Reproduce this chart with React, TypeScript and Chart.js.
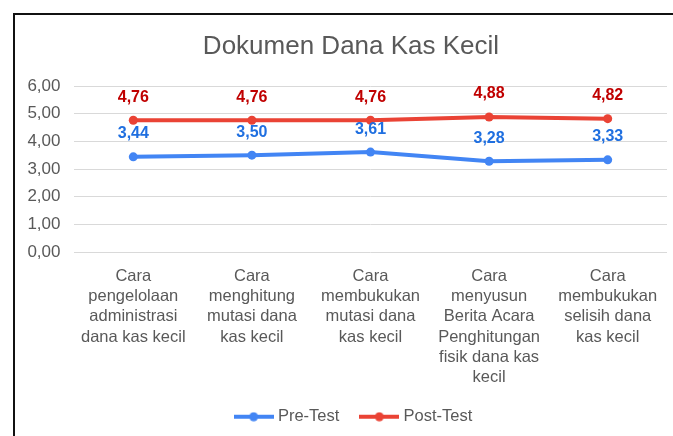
import React, { useEffect, useRef } from "react";
import { Chart, registerables } from "chart.js";

Chart.register(...registerables);

const chartTitle = "Dokumen Dana Kas Kecil";
const categories: string[][] = [
  ["Cara", "pengelolaan", "administrasi", "dana kas kecil"],
  ["Cara", "menghitung", "mutasi dana", "kas kecil"],
  ["Cara", "membukukan", "mutasi dana", "kas kecil"],
  ["Cara", "menyusun", "Berita Acara", "Penghitungan", "fisik dana kas", "kecil"],
  ["Cara", "membukukan", "selisih dana", "kas kecil"],
];
const preTest = [3.44, 3.5, 3.61, 3.28, 3.33];
const postTest = [4.76, 4.76, 4.76, 4.88, 4.82];
const seriesNames = ["Pre-Test", "Post-Test"];
const yMin = 0;
const yMax = 6;
const yStep = 1;

const FONT = "'Liberation Sans', Arial, sans-serif";
const GREY = "#595959";
const lineColors = ["#4285F4", "#EA4335"];
const labelColors = ["#1F6FE0", "#C00000"];

const fmt = (v: number) => v.toFixed(2).replace(".", ",");

function legendImage(color: string) {
  const c = document.createElement("canvas");
  c.width = 40;
  c.height = 10;
  const ctx = c.getContext("2d")!;
  ctx.strokeStyle = color;
  ctx.lineWidth = 4;
  ctx.beginPath();
  ctx.moveTo(0, 5);
  ctx.lineTo(40, 5);
  ctx.stroke();
  ctx.fillStyle = color;
  ctx.beginPath();
  ctx.arc(20, 5, 4.5, 0, Math.PI * 2);
  ctx.fill();
  return c;
}

export default function App() {
  const ref = useRef<HTMLCanvasElement | null>(null);

  useEffect(() => {
    if (!ref.current) return;
    const images = lineColors.map(legendImage);

    const dataLabels = {
      id: "dataLabels",
      afterDatasetsDraw(chart: any) {
        const ctx = chart.ctx;
        ctx.save();
        ctx.font = `bold 16px ${FONT}`;
        ctx.textAlign = "center";
        ctx.textBaseline = "middle";
        chart.data.datasets.forEach((ds: any, i: number) => {
          const meta = chart.getDatasetMeta(i);
          ctx.fillStyle = labelColors[i];
          meta.data.forEach((el: any, j: number) => {
            ctx.fillText(fmt(ds.data[j]), el.x, el.y - 23);
          });
        });
        ctx.restore();
      },
    };

    const titlePlugin = {
      id: "customTitle",
      beforeDraw(chart: any) {
        // the framed chart area is centred on x≈351 in the reference
        if (chart.legend) {
          chart.legend.left = 43;
        }
      },
      afterDraw(chart: any) {
        const ctx = chart.ctx;
        ctx.save();
        ctx.font = `26px ${FONT}`;
        ctx.fillStyle = GREY;
        ctx.textAlign = "center";
        ctx.textBaseline = "middle";
        ctx.fillText(chartTitle, 351, 47);
        ctx.restore();
      },
    };

    const chart = new Chart(ref.current, {
      type: "line",
      data: {
        labels: categories,
        datasets: [preTest, postTest].map((d, i) => ({
          label: seriesNames[i],
          data: d,
          borderColor: lineColors[i],
          backgroundColor: lineColors[i],
          borderWidth: 4,
          pointRadius: 4.5,
          pointHoverRadius: 4.5,
          pointBorderWidth: 0,
          pointBackgroundColor: lineColors[i],
          tension: 0,
        })),
      },
      options: {
        responsive: false,
        animation: false,
        layout: { padding: { top: 86, right: 6, bottom: 1, left: 0 } },
        scales: {
          x: {
            offset: true,
            grid: { display: false, drawTicks: false },
            border: { display: false },
            afterFit: (s: any) => {
              s.height = 132.5;
            },
            ticks: {
              autoSkip: false,
              maxRotation: 0,
              minRotation: 0,
              padding: 14,
              color: GREY,
              font: { family: FONT, size: 16.5, lineHeight: "20.3px" },
            },
          },
          y: {
            min: yMin,
            max: yMax,
            grid: { color: "#D9D9D9", lineWidth: 1, drawTicks: false },
            border: { display: false },
            afterFit: (s: any) => {
              s.width = 74;
            },
            ticks: {
              stepSize: yStep,
              padding: 13.5,
              color: GREY,
              font: { family: FONT, size: 17 },
              callback: (v: any) => fmt(Number(v)),
            },
          },
        },
        plugins: {
          title: { display: false },
          tooltip: { enabled: false },
          legend: {
            position: "bottom",
            labels: {
              usePointStyle: true,
              pointStyleWidth: 32,
              boxHeight: 16,
              padding: 24,
              color: GREY,
              font: { family: FONT, size: 16.5 },
              generateLabels: (c: any) =>
                Chart.defaults.plugins.legend.labels
                  .generateLabels(c)
                  .map((it: any, i: number) => ({ ...it, pointStyle: images[i] })),
            },
          },
        },
      } as any,
      plugins: [dataLabels, titlePlugin],
    });
    return () => chart.destroy();
  }, []);

  return (
    <div
      style={{
        position: "fixed",
        left: 0,
        top: 0,
        width: 673,
        height: 436,
        overflow: "hidden",
        background: "#fff",
      }}
    >
      <div
        style={{
          position: "absolute",
          left: 13,
          top: 13,
          width: 720,
          height: 520,
          border: "2px solid #111",
          boxSizing: "border-box",
        }}
      />
      <canvas
        ref={ref}
        width={673}
        height={436}
        style={{ position: "absolute", left: 0, top: 0, width: 673, height: 436 }}
      />
    </div>
  );
}
